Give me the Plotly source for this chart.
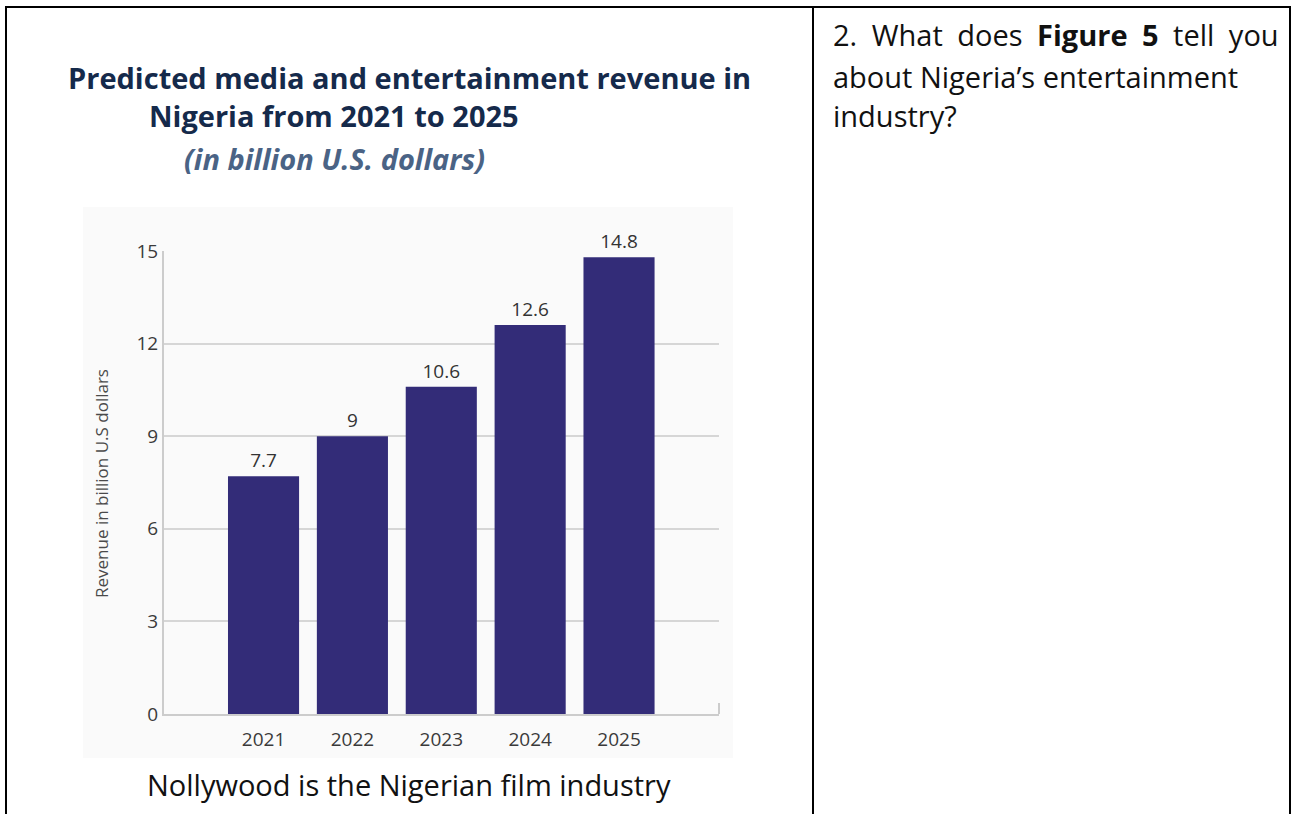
import plotly.graph_objects as go

# Chart data
years = ["2021", "2022", "2023", "2024", "2025"]
revenue = [7.7, 9, 10.6, 12.6, 14.8]
y_ticks = [0, 3, 6, 9, 12, 15]

W, H = 1292, 814


def px(x):
    return x / W


def py(y):
    return 1 - y / H


FONT = "Open Sans"
TITLE_COLOR = "#152a4b"
SUB_COLOR = "#4a6385"
BAR_COLOR = "#332c78"
GRID_COLOR = "#d6d6d6"
AXIS_COLOR = "#cccccc"
TICK_COLOR = "#3a3a3a"
EN_SPACE = "\u2002"

fig = go.Figure()

fig.add_trace(go.Bar(
    x=years,
    y=revenue,
    marker=dict(color=BAR_COLOR, line=dict(width=0)),
    width=0.8,
    text=[f"{v:g}" for v in revenue],
    textposition="outside",
    textfont=dict(family=FONT, size=19, color="#333333"),
    cliponaxis=False,
    showlegend=False,
    hoverinfo="x+y",
))

fig.update_layout(
    width=W,
    height=H,
    margin=dict(l=0, r=0, t=0, b=0, pad=0, autoexpand=False),
    paper_bgcolor="#ffffff",
    plot_bgcolor="#ffffff",
    font=dict(family=FONT),
    bargap=0.2,
    xaxis=dict(
        domain=[px(164), px(719)],
        range=[-1.12, 5.125],
        type="category",
        automargin=False,
        showgrid=False,
        showline=True,
        linecolor=AXIS_COLOR,
        linewidth=2,
        ticks="",
        ticklabelstandoff=7,
        tickfont=dict(family=FONT, size=19, color=TICK_COLOR),
        fixedrange=True,
    ),
    yaxis=dict(
        domain=[py(714), py(251)],
        range=[0, 15],
        tickvals=y_ticks,
        ticktext=[str(t) for t in y_ticks],
        automargin=False,
        showgrid=True,
        gridcolor=GRID_COLOR,
        gridwidth=2,
        zeroline=False,
        showline=True,
        linecolor=AXIS_COLOR,
        linewidth=2,
        ticks="",
        ticklabelstandoff=0,
        tickfont=dict(family=FONT, size=19, color=TICK_COLOR),
        fixedrange=True,
    ),
)

shapes = [
    # light backdrop behind the chart panel
    dict(type="rect", xref="paper", yref="paper", layer="below",
         x0=px(83), x1=px(733), y0=py(758), y1=py(207),
         fillcolor="#fafafa", line=dict(width=0)),
    # small end tick on the right of the baseline
    dict(type="line", xref="paper", yref="paper",
         x0=px(719), x1=px(719), y0=py(714), y1=py(703),
         line=dict(color=AXIS_COLOR, width=2)),
    # table borders
    dict(type="line", xref="paper", yref="paper",
         x0=px(5), x1=px(1291), y0=py(7), y1=py(7),
         line=dict(color="#000000", width=2)),
    dict(type="line", xref="paper", yref="paper",
         x0=px(6), x1=px(6), y0=py(6), y1=0,
         line=dict(color="#000000", width=2)),
    dict(type="line", xref="paper", yref="paper",
         x0=px(813), x1=px(813), y0=py(6), y1=0,
         line=dict(color="#000000", width=2)),
    dict(type="line", xref="paper", yref="paper",
         x0=px(1290), x1=px(1290), y0=py(6), y1=0,
         line=dict(color="#000000", width=2)),
]
fig.update_layout(shapes=shapes)


def label(text, x, y, size, color, xanchor="center", angle=0):
    fig.add_annotation(
        text=text, x=px(x), y=py(y), xref="paper", yref="paper",
        xanchor=xanchor, yanchor="middle", showarrow=False,
        textangle=angle,
        font=dict(family=FONT, size=size, color=color),
    )


# Title block
label("<b>Predicted media and entertainment revenue in</b>", 409, 77, 29, TITLE_COLOR)
label("<b>Nigeria from 2021 to 2025</b>", 334, 115, 29, TITLE_COLOR)
label("<b><i>(in billion U.S. dollars)</i></b>", 334, 158, 29, SUB_COLOR)

# Axis title
label("Revenue in billion U.S dollars", 101, 484, 17, "#4a4a4a", angle=-90)

# Caption under the chart
label("Nollywood is the Nigerian film industry", 409, 784, 29, "#111111")

# Question text in the right column (first line set with wider word gaps)
q1 = EN_SPACE.join(["2.", "What", "does", "<b>Figure", "5</b>", "tell", "you"])
label(q1, 831, 35, 29, "#111111", xanchor="left")
label("about Nigeria\u2019s entertainment", 831, 76, 29, "#111111", xanchor="left")
label("industry?", 831, 116, 29, "#111111", xanchor="left")

fig.write_html("out.html")
